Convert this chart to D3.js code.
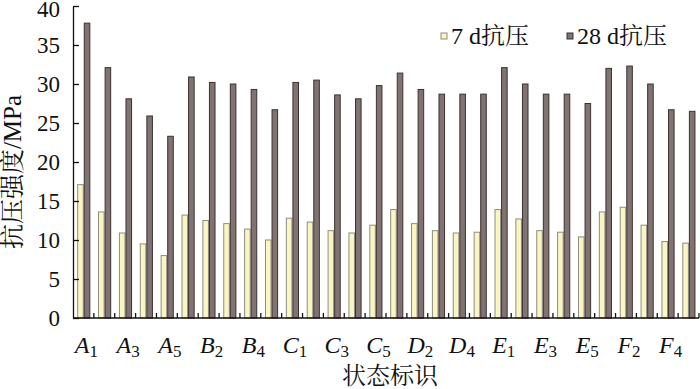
<!DOCTYPE html>
<html>
<head>
<meta charset="utf-8">
<script src="https://cdn.jsdelivr.net/npm/d3@7"></script>
<style>
  body { margin: 0; background: #fff; }
  svg text { font-family: "Liberation Serif", "Noto Serif CJK SC", "Noto Sans CJK SC", serif !important; fill: #111; }
</style>
</head>
<body>
<div id="chart"></div>
<script>
const groups = ['A', 'B', 'C', 'D', 'E', 'F'];
const categories = groups.flatMap(g => [1, 2, 3, 4, 5].map(n => g + n));
const series = ['7 d抗压', '28 d抗压'];
const strength7 = [17.1, 13.6, 10.9, 9.5, 8.0,
                   13.2, 12.5, 12.1, 11.4, 10.0,
                   12.8, 12.3, 11.2, 10.9, 11.9,
                   13.9, 12.1, 11.2, 10.9, 11.0,
                   13.9, 12.7, 11.2, 11.0, 10.4,
                   13.6, 14.2, 11.9, 9.8, 9.6];
const strength28 = [37.8, 32.1, 28.1, 25.9, 23.3,
                    30.9, 30.2, 30.0, 29.3, 26.7,
                    30.2, 30.5, 28.6, 28.1, 29.8,
                    31.4, 29.3, 28.7, 28.7, 28.7,
                    32.1, 30.0, 28.7, 28.7, 27.5,
                    32.0, 32.3, 30.0, 26.7, 26.5];
const yTicks = [0, 5, 10, 15, 20, 25, 30, 35, 40];

const W = 700, H = 389;
const margin = { top: 6, right: 1, bottom: 71, left: 73 };
const plotW = W - margin.left - margin.right;
const plotH = H - margin.top - margin.bottom;
const FONT = '"Liberation Serif", "Times New Roman", serif';

const fills = ['#f9f6c3', '#807372'];
const strokes = ['#8e8c80', '#3b3232'];

const svg = d3.select('#chart')
  .append('svg')
    .attr('width', W)
    .attr('height', H)
  .append('g')
    .attr('transform', `translate(${margin.left}, ${margin.top})`);

const x = d3.scaleBand()
  .domain(categories)
  .range([0, plotW]);

const xInner = d3.scaleBand()
  .domain(series)
  .range([x.bandwidth() * 0.2, x.bandwidth() * 0.83]);

const y = d3.scaleLinear()
  .domain([0, 40])
  .range([plotH, 0]);

const rows = categories.map((c, i) => ({ cat: c, vals: [strength7[i], strength28[i]] }));

const g = svg.selectAll('.grp')
  .data(rows)
  .enter()
  .append('g')
    .attr('transform', d => `translate(${x(d.cat)}, 0)`);

g.selectAll('rect')
  .data(d => d.vals.map((v, k) => ({ v, k })))
  .enter()
  .append('rect')
    .attr('x', d => xInner(series[d.k]) + 0.5)
    .attr('y', d => y(d.v))
    .attr('width', xInner.bandwidth() - 1)
    .attr('height', d => plotH - y(d.v))
    .attr('fill', d => fills[d.k])
    .attr('stroke', d => strokes[d.k])
    .attr('stroke-width', 1);

// y axis, ticks inward
const yAxis = svg.append('g')
  .attr('font-family', FONT)
  .call(d3.axisLeft(y).tickValues(yTicks).tickSizeInner(-6).tickSizeOuter(0).tickPadding(13));
yAxis.attr('font-family', FONT);
yAxis.select('.domain').attr('stroke', '#111').attr('stroke-width', 1.3);
yAxis.selectAll('.tick line').attr('stroke', '#111').attr('stroke-width', 1.3);
yAxis.selectAll('text')
  .attr('font-size', 23)
  .attr('font-family', FONT)
  .attr('fill', '#111')
  .attr('dy', (d) => d === 40 ? '0.45em' : '0.33em');

// x axis: ticks at group boundaries, pointing up
const xAxis = svg.append('g')
  .attr('transform', `translate(0, ${plotH})`);
xAxis.append('line')
  .attr('x1', 0).attr('x2', plotW)
  .attr('stroke', '#111').attr('stroke-width', 1.3);
xAxis.selectAll('.bt')
  .data(categories)
  .enter()
  .append('line')
    .attr('x1', d => x(d) + x.bandwidth())
    .attr('x2', d => x(d) + x.bandwidth())
    .attr('y1', 0).attr('y2', -5)
    .attr('stroke', '#111').attr('stroke-width', 1.3);

const labelled = categories.filter((c, i) => i % 2 === 0);
const lab = xAxis.selectAll('.lab')
  .data(labelled)
  .enter()
  .append('text')
    .attr('x', d => x(d) + x.bandwidth() / 2 + 3)
    .attr('y', 35)
    .attr('text-anchor', 'middle')
    .attr('font-family', FONT)
    .attr('font-size', 24);
lab.append('tspan').attr('font-style', 'italic').text(d => d[0]);
lab.append('tspan').attr('font-size', 17).attr('dy', 4).text(d => d[1]);

// axis titles
svg.append('text')
  .attr('x', plotW / 2 + 4)
  .attr('y', plotH + 66)
  .attr('text-anchor', 'middle')
  .attr('font-family', FONT)
  .attr('font-size', 24)
  .text('状态标识');

svg.append('text')
  .attr('transform', `translate(${-52}, ${plotH / 2 + 10}) rotate(-90)`)
  .attr('text-anchor', 'middle')
  .attr('font-family', FONT)
  .attr('font-size', 25)
  .text('抗压强度/MPa');

// legend
const legX = [368, 494];
const leg = svg.selectAll('.leg')
  .data(series)
  .enter()
  .append('g')
    .attr('transform', (d, i) => `translate(${legX[i]}, 27)`);
leg.append('rect')
  .attr('x', 0).attr('y', 0)
  .attr('width', 6).attr('height', 6)
  .attr('fill', (d, i) => fills[i])
  .attr('stroke', (d, i) => strokes[i]);
leg.append('text')
  .attr('x', 10)
  .attr('y', 11)
  .attr('font-family', FONT)
  .attr('font-size', 24)
  .text(d => d);
</script>
</body>
</html>
